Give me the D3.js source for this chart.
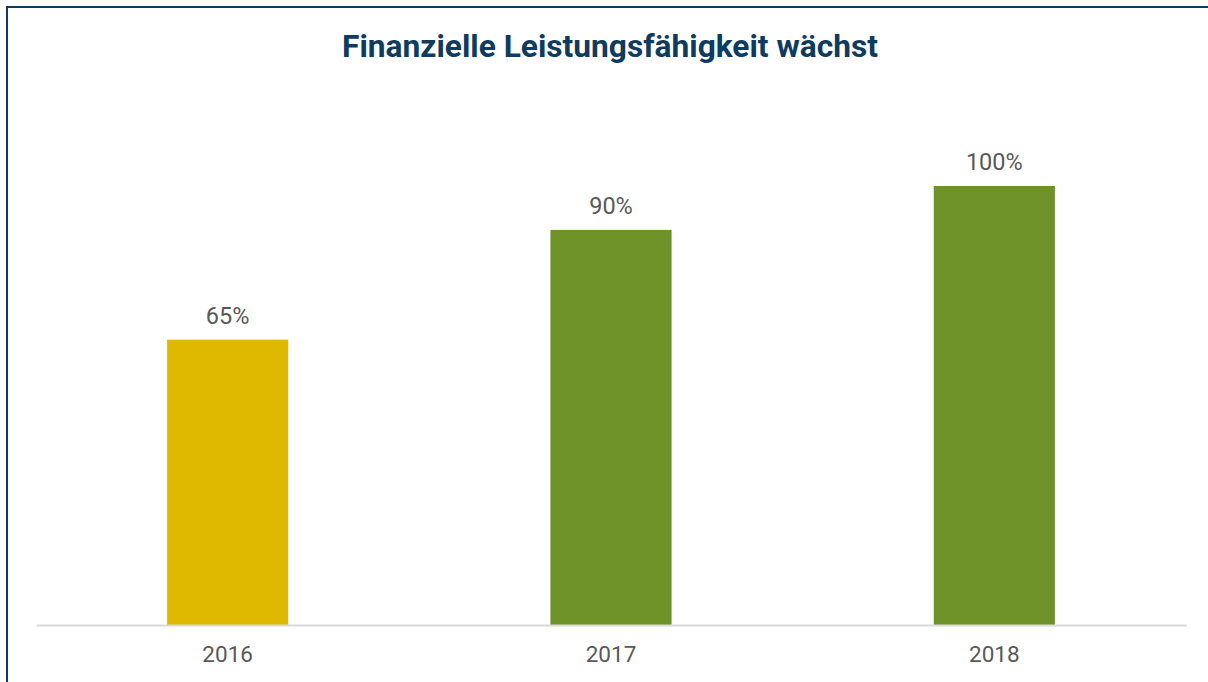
<!DOCTYPE html>
<html>
<head>
<meta charset="utf-8">
<script src="https://cdn.jsdelivr.net/npm/d3@7"></script>
<style>
html,body{margin:0;padding:0;background:#fff;}
svg{display:block;}
</style>
</head>
<body>
<svg id="chart" width="1208" height="682"></svg>
<script>
const title = "Finanzielle Leistungsfähigkeit wächst";
const categories = ["2016", "2017", "2018"];
const values = [65, 90, 100];
const valueLabels = ["65%", "90%", "100%"];
const barColors = ["#DFB800", "#6E9128", "#6E9128"];

const W = 1208, H = 682;
const svg = d3.select("#chart");

// frame
svg.append("line").attr("x1", 6).attr("x2", W).attr("y1", 7).attr("y2", 7)
  .attr("stroke", "#0E3B5E").attr("stroke-width", 2);
svg.append("line").attr("x1", 7).attr("x2", 7).attr("y1", 6).attr("y2", H)
  .attr("stroke", "#0E3B5E").attr("stroke-width", 2);

svg.append("text").attr("x", 610).attr("y", 57)
  .attr("text-anchor", "middle")
  .attr("font-family", "Roboto").attr("font-weight", "bold").attr("font-size", 31.7)
  .attr("fill", "#0E3B5E").text(title);

const baseline = 625;
const x = d3.scaleBand().domain(categories).range([36, 1186])
  .paddingInner(0.684).paddingOuter(0.342);
const y = d3.scaleLinear().domain([0, 100]).range([baseline, 186]);

svg.selectAll("rect.bar").data(values).enter().append("rect")
  .attr("class", "bar")
  .attr("x", (d, i) => x(categories[i]))
  .attr("width", x.bandwidth())
  .attr("y", d => y(d))
  .attr("height", d => baseline - y(d))
  .attr("fill", (d, i) => barColors[i]);

svg.selectAll("text.val").data(values).enter().append("text")
  .attr("class", "val")
  .attr("x", (d, i) => x(categories[i]) + x.bandwidth() / 2)
  .attr("y", d => y(d) - 16)
  .attr("text-anchor", "middle")
  .attr("font-family", "Roboto").attr("font-size", 23.5)
  .attr("fill", "#595959")
  .text((d, i) => valueLabels[i]);

const axis = d3.axisBottom(x).tickSize(0).tickPadding(21);
const g = svg.append("g").attr("transform", `translate(0,${baseline})`).call(axis);
g.select(".domain").attr("stroke", "#D9D9D9").attr("stroke-width", 2);
g.selectAll("text").attr("font-family", "Roboto").attr("font-size", 22.5)
  .attr("fill", "#595959");
</script>
</body>
</html>
